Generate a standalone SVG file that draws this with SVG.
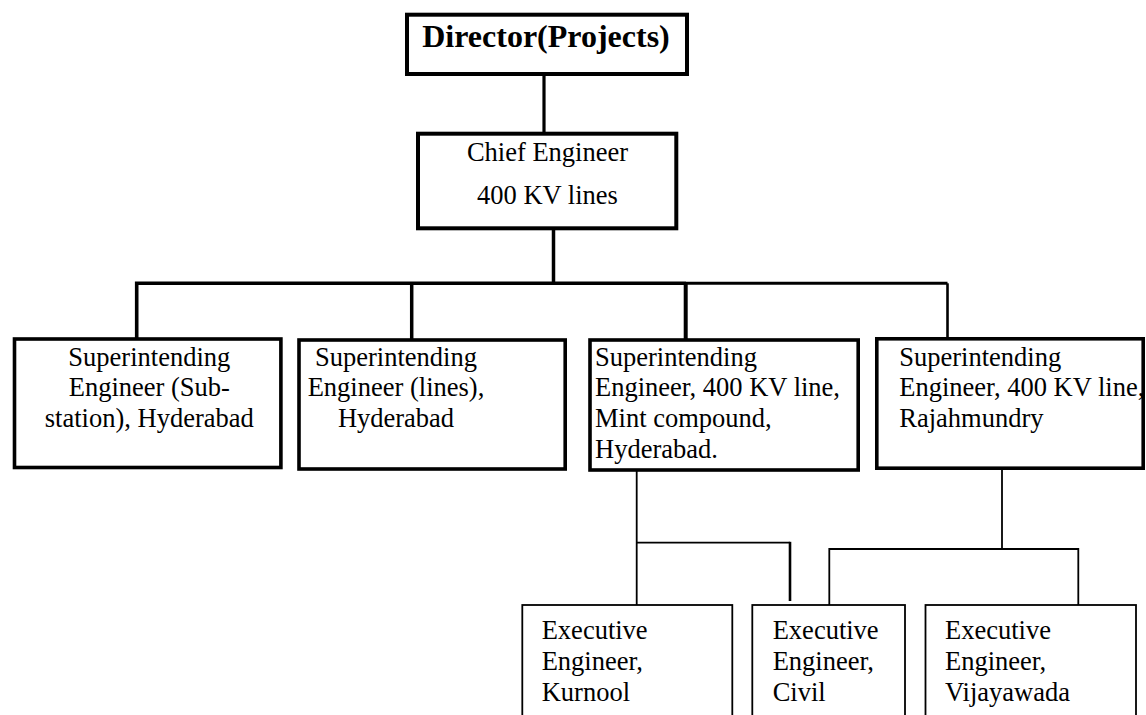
<svg xmlns="http://www.w3.org/2000/svg" width="1146" height="715" viewBox="0 0 1146 715">
<style>
  text { font-family: "Liberation Serif", "Times New Roman", serif; font-size: 26.5px; fill: #000; }
  .b { font-weight: bold; font-size: 32px; }
  .c { text-anchor: middle; }
  .box { fill: #fff; stroke: #000; stroke-width: 3.6; }
  .thick { fill: #fff; stroke: #000; stroke-width: 4; }
  .ebox { fill: #fff; stroke: #000; stroke-width: 1.8; }
  .conn path { fill: none; stroke: #000; }
</style>
<rect width="1146" height="715" fill="#fff"/>
<g id="connectors" class="conn">
  <path d="M544 74 V134" stroke-width="3.2"/>
  <path d="M553.5 229 V283.3" stroke-width="3.5"/>
  <path d="M136.7 339 V283.3 H686" stroke-width="3.6"/>
  <path d="M686 283.3 H947.5" stroke-width="3"/>
  <path d="M411.7 283.3 V340" stroke-width="3.5"/>
  <path d="M685.7 283.3 V342" stroke-width="4"/>
  <path d="M947.5 283.3 V339" stroke-width="2.6"/>
  <path d="M636.7 471 V605" stroke-width="1.8"/>
  <path d="M636.7 542.7 H790" stroke-width="1.8"/>
  <path d="M790 541.8 V601" stroke-width="2.6"/>
  <path d="M1002 469 V549" stroke-width="1.8"/>
  <path d="M829.3 606 V549 H1078.3 V606" stroke-width="1.8"/>
</g>
<g id="director">
  <rect class="thick" x="407" y="14.7" width="280" height="59.3"/>
  <text class="b c" x="546" y="47.3">Director(Projects)</text>
</g>
<g id="chief">
  <rect class="thick" x="418" y="133.7" width="258.3" height="94.6"/>
  <text class="c" x="547.5" y="160.7">Chief Engineer</text>
  <text class="c" x="547.5" y="204">400 KV lines</text>
</g>
<g id="se-substation">
  <rect class="box" x="14.5" y="339" width="266.4" height="128.5"/>
  <text class="c" x="149.3" y="365.5">Superintending</text>
  <text class="c" x="149.3" y="396.3">Engineer (Sub-</text>
  <text class="c" x="149.3" y="427">station), Hyderabad</text>
</g>
<g id="se-lines">
  <rect class="box" x="299" y="340" width="266.2" height="129"/>
  <text class="c" x="396" y="365.5">Superintending</text>
  <text class="c" x="396" y="396.3">Engineer (lines),</text>
  <text class="c" x="396" y="427">Hyderabad</text>
</g>
<g id="se-mint">
  <rect class="box" x="590" y="340" width="268.2" height="130"/>
  <text x="595" y="365.5">Superintending</text>
  <text x="595" y="396.3">Engineer, 400 KV line,</text>
  <text x="595" y="427">Mint compound,</text>
  <text x="595" y="458">Hyderabad.</text>
</g>
<g id="se-rajahmundry">
  <rect class="box" x="876.8" y="338.8" width="266.4" height="129.4"/>
  <text x="899.3" y="365.5">Superintending</text>
  <text x="899.3" y="396.3">Engineer, 400 KV line,</text>
  <text x="899.3" y="427">Rajahmundry</text>
</g>
<g id="ee-kurnool">
  <rect class="ebox" x="522.3" y="605" width="210" height="130"/>
  <text x="541.7" y="638.5">Executive</text>
  <text x="541.7" y="669.8">Engineer,</text>
  <text x="541.7" y="700.5">Kurnool</text>
</g>
<g id="ee-civil">
  <rect class="ebox" x="752.3" y="605" width="152.7" height="130"/>
  <text x="772.7" y="638.5">Executive</text>
  <text x="772.7" y="669.8">Engineer,</text>
  <text x="772.7" y="700.5">Civil</text>
</g>
<g id="ee-vijayawada">
  <rect class="ebox" x="925.5" y="605" width="210.5" height="130"/>
  <text x="945" y="638.5">Executive</text>
  <text x="945" y="669.8">Engineer,</text>
  <text x="945" y="700.5">Vijayawada</text>
</g>
</svg>
